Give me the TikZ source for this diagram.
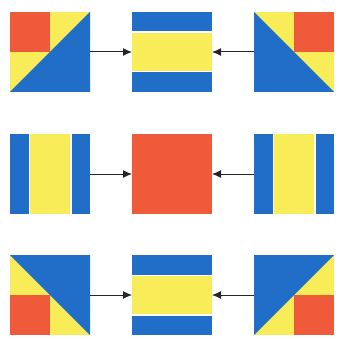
\documentclass[tikz,border=0pt]{standalone}
\usepackage{tikz}
\usetikzlibrary{arrows.meta}
\definecolor{blu}{RGB}{32,110,200}
\definecolor{yel}{RGB}{248,236,88}
\definecolor{redc}{RGB}{238,90,58}
\begin{document}
\begin{tikzpicture}[x=1pt,y=-1pt,>={Latex[length=9pt,width=8pt]},
  tile/.style={minimum size=80pt,inner sep=0pt,outer sep=0pt}]
  \useasboundingbox (0,0) rectangle (339,339);
  % tiles
  \node[tile] (tl) at (50,52) {};
  \node[tile] (tc) at (172,52) {};
  \node[tile] (tr) at (294,52) {};
  \node[tile] (ml) at (50,174) {};
  \node[tile,fill=redc] (mc) at (172,174) {};
  \node[tile] (mr) at (294,174) {};
  \node[tile] (bl) at (50,295) {};
  \node[tile] (bc) at (172,295) {};
  \node[tile] (br) at (294,295) {};
  % corner tiles
  \foreach \t in {tl,tr,bl,br}
    \fill[yel] (\t.north west) rectangle (\t.south east);
  \fill[redc] (tl.north west) rectangle (tl.center);
  \fill[blu] (tl.south west) -- (tl.north east) -- (tl.south east) -- cycle;
  \fill[redc] (tr.north east) rectangle (tr.center);
  \fill[blu] (tr.north west) -- (tr.south east) -- (tr.south west) -- cycle;
  \fill[redc] (bl.south west) rectangle (bl.center);
  \fill[blu] (bl.north west) -- (bl.north east) -- (bl.south east) -- cycle;
  \fill[redc] (br.south east) rectangle (br.center);
  \fill[blu] (br.north west) -- (br.north east) -- (br.south west) -- cycle;
  % striped tiles
  \foreach \t in {tc,bc} {
    \begin{scope}[shift={(\t.center)}]
      \fill[blu] (-40,-40) rectangle (40,-20.5);
      \fill[yel] (-40,-19) rectangle (40,19);
      \fill[blu] (-40,20.5) rectangle (40,40);
    \end{scope}
  }
  \foreach \t in {ml,mr} {
    \begin{scope}[shift={(\t.center)}]
      \fill[blu] (-40,-40) rectangle (-21.5,40);
      \fill[yel] (-20,-40) rectangle (20,40);
      \fill[blu] (21.5,-40) rectangle (40,40);
    \end{scope}
  }
  % arrows
  \foreach \r in {t,m,b} {
    \draw[->,line width=1pt,black!85] (\r l.east) -- (\r c.west);
    \draw[->,line width=1pt,black!85] (\r r.west) -- (\r c.east);
  }
\end{tikzpicture}
\end{document}
